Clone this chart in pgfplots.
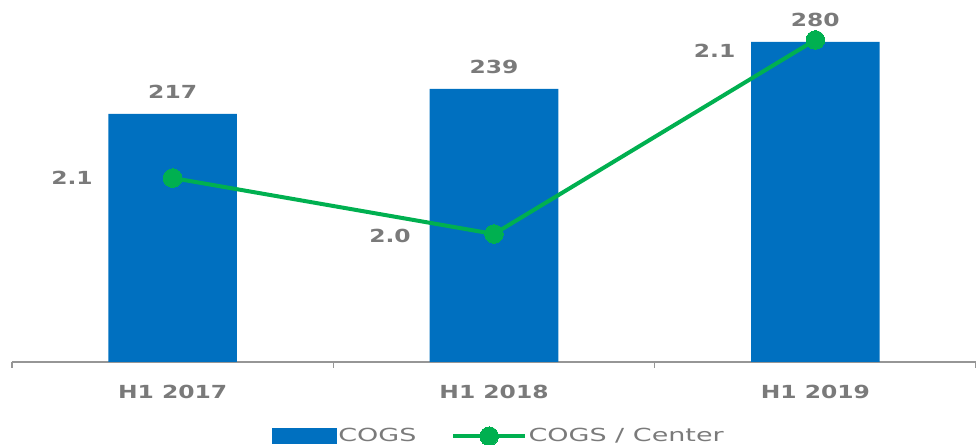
\documentclass[border=0pt]{standalone}
\usepackage{fontspec}
\setmainfont{DejaVu Sans}
\newfontfamily\lblfont[FakeStretch=1.3]{DejaVu Sans}
\newfontfamily\legfont[FakeStretch=1.5]{DejaVu Sans}
\usepackage{pgfplots}
\usepackage{pgfplotstable}
\pgfplotsset{compat=1.18}
\definecolor{barblue}{RGB}{0,112,192}
\definecolor{linegreen}{RGB}{0,176,80}
\definecolor{labelgray}{RGB}{122,122,122}
\definecolor{axisgray}{RGB}{150,150,150}
\pgfplotsset{
  mylegline/.style={legend image code/.code={\draw[mark repeat=2,mark phase=2,##1] plot coordinates {(0pt,0pt) (27pt,0pt) (54pt,0pt)};}},
  mylegbar/.style={legend image code/.code={\fill[barblue] (0pt,-5.6pt) rectangle (48pt,5.6pt);}},
}
\pgfplotstableread{
x y lbl dx dy
0 2.06 2.1 -75.5 0.5
1 2.03 2.0 -78 -1.5
2 2.134 2.1 -75.5 -8.5
}\ratiotable
\begin{document}
\begin{tikzpicture}
\useasboundingbox (-9pt,-62.25pt) rectangle (723pt,271.5pt);
\begin{axis}[
  at={(0,0)}, anchor=south west,
  scale only axis, width=723pt, height=271.5pt,
  xmin=-0.5, xmax=2.5, ymin=0, ymax=316.7,
  axis x line*=bottom, axis y line=none,
  x axis line style={draw=axisgray, line width=1pt, -},
  xtick={0,1,2}, xticklabels={H1 2017, H1 2018, H1 2019},
  major tick length=0pt,
  xticklabel style={font=\lblfont\bfseries\fontsize{13.5}{15}\selectfont, text=labelgray, anchor=center, yshift=-22.5pt},
  extra x ticks={-0.5,0.5,1.5,2.5}, extra x tick labels={},
  extra x tick style={major tick length=4.5pt, tick align=outside, tick style={draw=axisgray, line width=1pt}},
  /pgf/number format/assume math mode=true,
]
\addplot[ybar, bar width=0.4, fill=barblue, draw=none,
  nodes near coords,
  nodes near coords style={font=\lblfont\bfseries\fontsize{13.5}{15}\selectfont, text=labelgray, anchor=center, yshift=16.5pt}]
  coordinates {(0,217) (1,239) (2,280)};
\end{axis}
\begin{axis}[
  at={(0,0)}, anchor=south west,
  scale only axis, width=723pt, height=271.5pt,
  xmin=-0.5, xmax=2.5, ymin=1.9614, ymax=2.1554,
  hide x axis, hide y axis,
  legend style={at={(0.505,-0.205)}, anchor=center, draw=none, fill=none,
    legend columns=-1, font=\legfont\fontsize{13.5}{15}\selectfont, text=labelgray,
    /tikz/every odd column/.append style={column sep=0pt},
    /tikz/every even column/.append style={column sep=25pt},
    nodes={inner xsep=1pt}},
]
\addlegendimage{mylegbar}
\addlegendentry{COGS}
\addplot[draw=linegreen, line width=3pt, mark=*, mark size=7pt,
  mark options={fill=linegreen, draw=linegreen, line width=0pt},
  mylegline,
  nodes near coords, point meta=explicit symbolic,
  visualization depends on={\thisrow{dx} \as \dx},
  visualization depends on={\thisrow{dy} \as \dy},
  nodes near coords style={font=\lblfont\bfseries\fontsize{13.5}{15}\selectfont, text=labelgray, anchor=center, xshift=\dx pt, yshift=\dy pt}]
  table[x=x, y=y, meta=lbl] {\ratiotable};
\addlegendentry{COGS / Center}
\end{axis}
\end{tikzpicture}
\end{document}
